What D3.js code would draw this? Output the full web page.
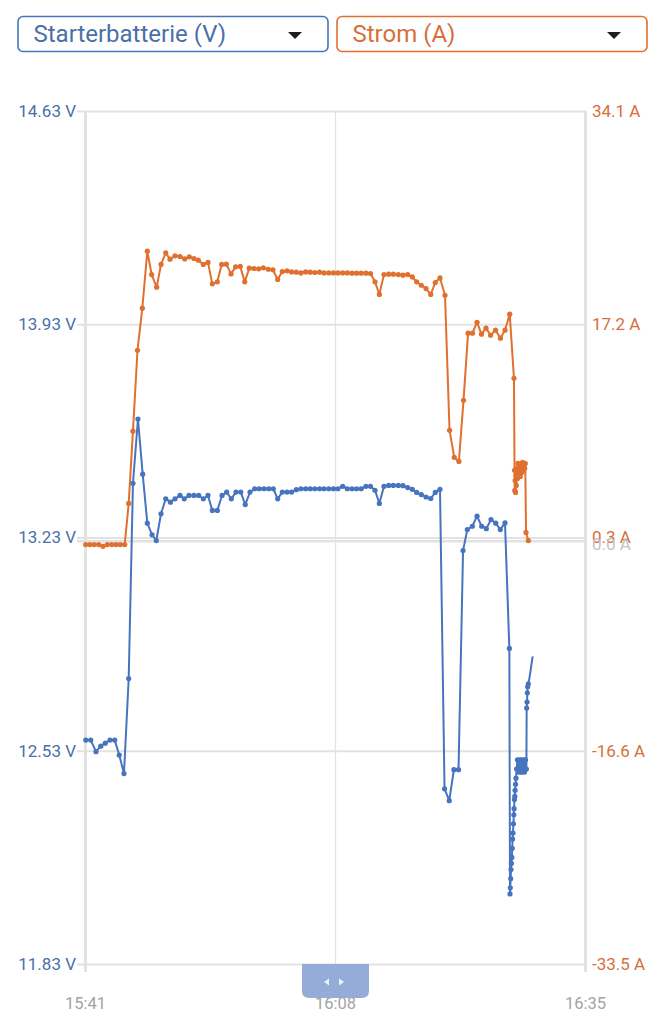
<!DOCTYPE html>
<html><head><meta charset="utf-8">
<script src="https://cdn.jsdelivr.net/npm/d3@7"></script>
<style>
html,body{margin:0;padding:0;background:#fff;}
svg{display:block;font-family:Roboto,"Noto Sans",sans-serif;}
</style></head><body>
<svg id="c" width="659" height="1024"></svg>
<script>
// ---------- data ----------
const seriesNames = ["Starterbatterie (V)", "Strom (A)"];
const timeTicks = ["15:41", "16:08", "16:35"];
const voltTicks = [14.63, 13.93, 13.23, 12.53, 11.83];
const ampTicks = [34.1, 17.2, 0.3, -16.6, -33.5];
const zeroAmpLabel = 0.0;

// time in minutes after 15:41
const voltTimes = [0.08,0.62,1.19,1.70,2.19,2.70,3.21,3.70,4.21,4.72,5.18,5.72,6.23,6.73,7.24,7.70,8.21,8.72,9.23,9.72,
  10.26,10.72,11.23,11.77,12.28,12.78,13.28,13.75,14.29,14.80,15.30,15.80,16.31,16.82,17.31,17.82,18.33,18.82,19.33,19.84,
  20.34,20.81,21.31,21.82,22.31,22.82,23.32,23.83,24.32,24.82,25.33,25.82,26.33,26.83,27.32,27.83,28.33,28.84,29.33,29.83,
  30.34,30.83,31.32,31.79,32.29,32.80,33.30,33.84,34.34,34.85,35.35,35.82,36.32,36.83,37.34,37.83,38.34,
  38.83,39.34,39.84,40.34,40.83,41.29,41.83,42.34,42.84,43.34,43.85,44.36,44.85,45.36,45.83,
  45.90,45.93,45.97,46.01,46.05,46.10,46.14,46.18,46.22,46.27,46.31,46.34,46.38,46.42,46.45,46.50,46.55,46.61,
  46.71,46.82,46.93,47.04,47.14,47.25,47.36,47.47,47.57,47.67,47.70,47.74,47.77,47.81,47.88];
const voltValues = [12.565,12.565,12.527,12.545,12.555,12.565,12.565,12.516,12.455,12.767,13.408,13.619,13.438,13.277,13.239,13.22,13.308,13.357,13.346,13.357,
  13.368,13.357,13.368,13.368,13.368,13.357,13.368,13.319,13.319,13.368,13.379,13.357,13.379,13.379,13.338,13.379,13.39,13.39,13.39,13.39,
  13.39,13.357,13.379,13.379,13.379,13.387,13.39,13.39,13.39,13.39,13.39,13.39,13.39,13.39,13.39,13.398,13.39,13.39,13.39,13.39,
  13.398,13.398,13.385,13.342,13.398,13.401,13.401,13.401,13.40,13.394,13.388,13.378,13.371,13.363,13.358,13.378,13.388,
  12.405,12.366,12.468,12.468,13.187,13.256,13.267,13.30,13.267,13.259,13.289,13.277,13.256,13.278,12.866,
  12.06,12.08,12.11,12.14,12.16,12.18,12.21,12.24,12.26,12.29,12.32,12.34,12.37,12.38,12.40,12.42,12.44,12.47,
  12.50,12.46,12.50,12.46,12.50,12.46,12.50,12.46,12.50,12.47,12.67,12.69,12.72,12.74,12.75];
// last readings (line only)
const voltTailTimes = [47.88,48.06,48.20,48.35];
const voltTailValues = [12.75,12.78,12.81,12.84];

const ampTimes = [0.08,0.54,1.00,1.48,1.94,2.41,2.88,3.35,3.81,4.29,
  4.72,5.18,5.67,6.19,6.73,7.20,7.74,8.21,8.72,9.18,9.72,10.26,10.77,11.26,11.77,12.24,12.78,13.28,13.75,14.29,
  14.76,15.26,15.77,16.27,16.77,17.25,17.74,18.25,18.76,19.26,19.80,20.30,20.81,21.31,21.82,
  22.31,22.82,23.32,23.83,24.32,24.82,25.33,25.82,26.33,26.83,27.32,27.83,28.33,28.84,29.33,29.83,30.34,30.83,
  31.32,31.79,32.29,32.80,33.30,33.84,34.34,34.85,35.35,35.82,36.32,36.83,37.34,37.83,38.34,38.88,39.37,39.88,
  40.38,40.88,41.37,41.85,42.34,42.82,43.31,43.80,44.34,44.87,45.36,45.87,46.33,
  46.39,46.42,46.46,46.50,46.55,46.58,46.66,46.71,46.76,46.84,46.93,47.01,47.09,47.18,47.25,47.34,47.41,47.49,47.55,47.63,47.88];
const ampValues = [-0.26,-0.26,-0.26,-0.26,-0.40,-0.26,-0.26,-0.26,-0.26,-0.26,
  3.0,8.73,15.14,18.47,22.99,21.14,20.14,21.94,22.86,22.36,22.62,22.57,22.38,22.54,22.41,22.28,21.94,22.10,20.40,20.56,
  21.94,21.96,21.19,21.75,21.78,20.56,21.64,21.62,21.59,21.67,21.56,21.51,20.75,21.38,21.43,
  21.35,21.33,21.27,21.35,21.33,21.30,21.33,21.27,21.27,21.27,21.27,21.27,21.27,21.25,21.25,21.25,21.25,21.22,
  20.56,19.56,21.14,21.17,21.17,21.14,21.09,21.14,20.95,20.56,20.29,20.03,19.56,20.51,20.87,19.50,8.79,6.65,
  6.33,11.17,16.49,16.49,17.36,16.41,16.89,16.33,16.73,16.10,16.73,18.0,12.92,
  5.62,4.03,4.82,3.87,5.22,4.43,5.78,4.98,6.17,5.30,5.93,5.14,6.09,5.46,6.25,5.62,6.17,5.78,6.17,0.70,0.06];

// ---------- styles ----------
const BLUE = "#4674bf", BLUE_TXT = "#4a70aa";
const ORANGE = "#e0702f", ORANGE_TXT = "#d66f3a";
const GRID = "#e2e2e2";

const svg = d3.select("#c");
const day = (hm) => { const [h, m] = hm.split(":").map(Number); return new Date(2024, 0, 1, h, m, 0); };
const t0 = day(timeTicks[0]);
const toDate = m => new Date(t0.getTime() + m * 60000);

const x = d3.scaleTime().domain([day(timeTicks[0]), day(timeTicks[timeTicks.length - 1])]).range([85, 585]);
const yV = d3.scaleLinear().domain([d3.min(voltTicks), d3.max(voltTicks)]).range([964, 111]);
const yA = d3.scaleLinear().domain([d3.min(ampTicks), d3.max(ampTicks)]).range([964, 111]);

// ---------- dropdowns ----------
const boxes = [{x: 18, w: 310, color: BLUE, txt: BLUE_TXT, name: seriesNames[0]},
               {x: 337, w: 310, color: ORANGE, txt: ORANGE_TXT, name: seriesNames[1]}];
boxes.forEach(b => {
  const g = svg.append("g");
  g.append("rect").attr("x", b.x).attr("y", 16.5).attr("width", b.w).attr("height", 35)
    .attr("rx", 5).attr("fill", "#fff").attr("stroke", b.color).attr("stroke-width", 1.6);
  g.append("text").attr("x", b.x + 15.5).attr("y", 42).attr("font-size", 24)
    .attr("fill", b.txt).text(b.name);
  const cx = b.x + b.w - 33;
  g.append("path").attr("d", `M${cx - 7},32 L${cx + 7},32 L${cx},39 Z`).attr("fill", "#1e1e1e");
});

// ---------- grid / axes ----------
const gx = svg.append("g").attr("transform", "translate(0,972)")
  .call(d3.axisBottom(x).tickValues(timeTicks.map(day)).tickFormat(d3.timeFormat("%H:%M"))
    .tickSizeInner(-861).tickSizeOuter(0).tickPadding(25));
gx.select(".domain").remove();
gx.selectAll(".tick line").attr("stroke", GRID).attr("stroke-width", (d, i) => (i === 1 ? 1.2 : 3));
gx.selectAll(".tick text").attr("fill", "#a3a3a3").attr("font-size", 16.5).attr("font-family", "Roboto");

const gl = svg.append("g").attr("transform", "translate(77,0)")
  .call(d3.axisLeft(yV).tickValues(voltTicks).tickFormat(d => d.toFixed(2) + " V")
    .tickSizeInner(-509).tickSizeOuter(0).tickPadding(1));
gl.select(".domain").remove();
gl.selectAll(".tick line").attr("stroke", GRID).attr("stroke-width", 2);
gl.selectAll(".tick text").attr("fill", BLUE_TXT).attr("font-size", 17).attr("font-family", "Roboto");

// zero-current line
svg.append("line").attr("x1", 77).attr("x2", 586).attr("y1", yA(zeroAmpLabel)).attr("y2", yA(zeroAmpLabel))
  .attr("stroke", GRID).attr("stroke-width", 2.5);

const gr = svg.append("g").attr("transform", "translate(586,0)")
  .call(d3.axisRight(yA).tickValues(ampTicks).tickFormat(d => d.toFixed(1) + " A")
    .tickSizeInner(0).tickSizeOuter(0).tickPadding(6));
gr.select(".domain").remove();
gr.selectAll(".tick text").attr("fill", ORANGE_TXT).attr("font-size", 17).attr("font-family", "Roboto");
svg.append("text").attr("x", 592).attr("y", yA(zeroAmpLabel)).attr("dy", "0.5em")
  .attr("font-size", 17).attr("fill", "#c4c4c4").text(zeroAmpLabel.toFixed(1) + " A");

// ---------- series ----------
const ampData = ampTimes.map((t, i) => ({t: toDate(t), v: ampValues[i]}));
const voltData = voltTimes.map((t, i) => ({t: toDate(t), v: voltValues[i]}));
const voltTail = voltTailTimes.map((t, i) => ({t: toDate(t), v: voltTailValues[i]}));

const lineA = d3.line().x(d => x(d.t)).y(d => yA(d.v));
const lineV = d3.line().x(d => x(d.t)).y(d => yV(d.v));

svg.append("path").datum(ampData).attr("d", lineA).attr("fill", "none")
  .attr("stroke", ORANGE).attr("stroke-width", 2).attr("stroke-linejoin", "round");
svg.append("g").selectAll("circle").data(ampData).join("circle")
  .attr("cx", d => x(d.t)).attr("cy", d => yA(d.v)).attr("r", 2.6).attr("fill", ORANGE);

svg.append("path").datum(voltData).attr("d", lineV).attr("fill", "none")
  .attr("stroke", BLUE).attr("stroke-width", 2).attr("stroke-linejoin", "round");
svg.append("path").datum(voltTail).attr("d", d3.line().curve(d3.curveMonotoneX).x(d => x(d.t)).y(d => yV(d.v)))
  .attr("fill", "none").attr("stroke", BLUE).attr("stroke-width", 2);
svg.append("g").selectAll("circle").data(voltData).join("circle")
  .attr("cx", d => x(d.t)).attr("cy", d => yV(d.v)).attr("r", 2.6).attr("fill", BLUE);

// ---------- range slider handle ----------
const hx = x(day(timeTicks[1]));
svg.append("path")
  .attr("d", `M${hx - 33},964 H${hx + 34} V991 Q${hx + 34},998 ${hx + 27},998 H${hx - 26} Q${hx - 33},998 ${hx - 33},991 Z`)
  .attr("fill", "#94acd7");
svg.append("path").attr("d", `M${hx - 11},982 L${hx - 6},978.5 L${hx - 6},985.5 Z`).attr("fill", "#eef2fa");
svg.append("path").attr("d", `M${hx + 9},982 L${hx + 4},978.5 L${hx + 4},985.5 Z`).attr("fill", "#eef2fa");
</script>
</body></html>
